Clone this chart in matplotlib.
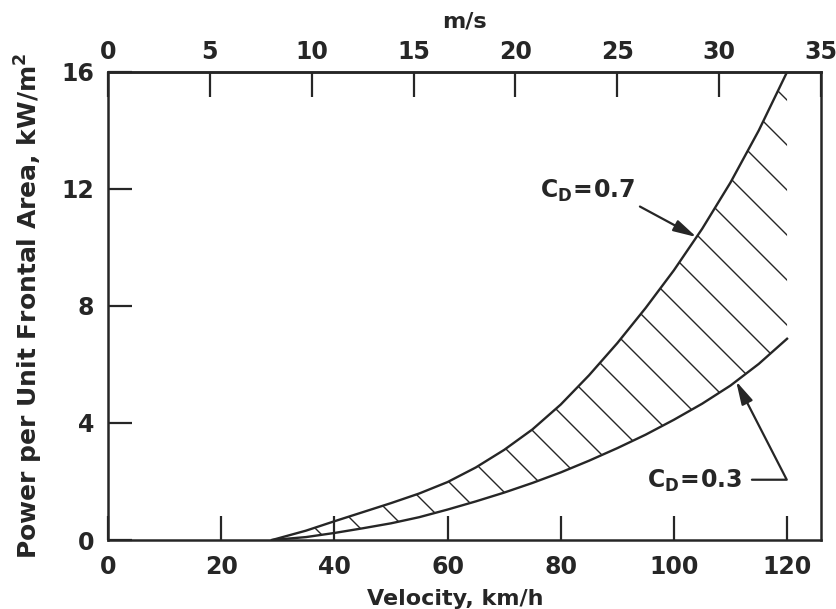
import numpy as np
import matplotlib
matplotlib.use("Agg")
import matplotlib.pyplot as plt
from matplotlib.lines import Line2D

# velocity, km/h
velocity = [29, 35, 40, 45, 50, 55, 60, 65, 70, 75, 80, 85, 90, 95, 100, 105, 110, 115, 120]
# power per unit frontal area, kW/m^2
power_cd07 = [0.0, 0.32, 0.64, 0.95, 1.26, 1.59, 1.98, 2.48, 3.08, 3.78, 4.63, 5.63,
              6.73, 7.93, 9.22, 10.64, 12.22, 14.00, 16.0]
power_cd03 = [0.0, 0.10, 0.24, 0.40, 0.57, 0.78, 1.04, 1.32, 1.62, 1.95, 2.31, 2.71,
              3.14, 3.60, 4.11, 4.66, 5.28, 6.02, 6.88]

kmh_ticks = [0, 20, 40, 60, 80, 100, 120]
ms_ticks = [0, 5, 10, 15, 20, 25, 30, 35]
power_ticks = [0, 4, 8, 12, 16]

INK = "#262626"
plt.rcParams["font.family"] = "DejaVu Sans"
plt.rcParams["font.weight"] = "bold"
plt.rcParams["axes.labelweight"] = "bold"
plt.rcParams["mathtext.fontset"] = "dejavusans"

fig = plt.figure(figsize=(8.37, 6.09), dpi=100)
ax = fig.add_axes([0.129, 0.1133, 0.8519, 0.7685])
ax.set_xlim(0, 126)
ax.set_ylim(0, 16)

ax.plot(velocity, power_cd07, color=INK, lw=1.7, solid_joinstyle="round")
ax.plot(velocity, power_cd03, color=INK, lw=1.7, solid_joinstyle="round")

# band between the two drag coefficients, used only as a clip region
band = ax.fill_between(velocity, power_cd03, power_cd07, facecolor="none", edgecolor="none")
band_path = band.get_paths()[0]

# 45 degree hatching (on screen), clipped to the band
pos = ax.get_position()
W = pos.width * fig.bbox.width
H = pos.height * fig.bbox.height
spacing, offset = 45.0, 39.0
for c in np.arange(offset, W + H, spacing):
    ln = Line2D([c / W, (c - H) / W], [0, 1], transform=ax.transAxes,
                color=INK, lw=1.0)
    ln.set_clip_path(band_path, ax.transData)
    ax.add_line(ln)

for s in ax.spines.values():
    s.set_linewidth(1.8)
    s.set_color(INK)

ax.set_xticks(kmh_ticks)
ax.set_yticks(power_ticks)
ax.tick_params(direction="in", length=17, width=1.6, colors=INK, labelsize=17,
               pad=11, top=False, right=False)
ax.tick_params(axis="y", pad=10)

sec = ax.secondary_xaxis("top", functions=(lambda k: np.asarray(k) / 3.6,
                                           lambda m: np.asarray(m) * 3.6))
sec.set_xticks(ms_ticks)
sec.tick_params(direction="in", length=18, width=1.6, colors=INK, labelsize=17, pad=6)
sec.spines["top"].set_linewidth(1.8)
sec.spines["top"].set_color(INK)
sec.set_xlabel("m/s", fontsize=16, color=INK, labelpad=9)

ax.set_xlabel("Velocity, km/h", fontsize=16, color=INK, labelpad=7, x=0.487)
ax.set_ylabel(r"Power per Unit Frontal Area, kW/m$^\mathbf{2}$", fontsize=18,
              color=INK, labelpad=12)

arrow = dict(arrowstyle="-|>,head_length=0.7,head_width=0.18", color=INK, lw=1.6,
             mutation_scale=20, shrinkA=0, shrinkB=0)

# C_D = 0.7 label with arrow onto the upper curve
ax.text(76.3, 11.7, r"$\mathbf{C_D\!=\!0.7}$", fontsize=17, color=INK,
        ha="left", va="baseline")
v_hi = 104.0
ax.annotate("", xy=(v_hi, np.interp(v_hi, velocity, power_cd07)), xytext=(94.0, 11.4),
            arrowprops=arrow)

# C_D = 0.3 label, leader runs right then up onto the lower curve
v_lo = 111.0
ax.annotate(r"$\mathbf{C_D\!=\!0.3}$", xy=(v_lo, np.interp(v_lo, velocity, power_cd03)),
            xytext=(95.2, 1.78), fontsize=17, color=INK, ha="left", va="baseline",
            arrowprops=dict(arrow, shrinkA=5, relpos=(1, 0.55),
                            connectionstyle="angle,angleA=0,angleB=-62.8,rad=0"))

fig.savefig("out.png", dpi=100, facecolor="white")
